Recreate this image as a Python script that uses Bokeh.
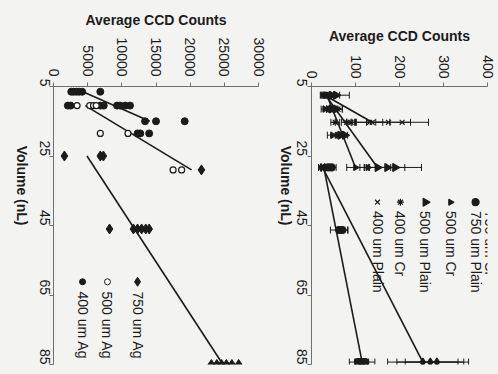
import math
from bokeh.plotting import figure
from bokeh.layouts import row
from bokeh.models import Range1d, FixedTicker, ColumnDataSource, Whisker, TeeHead, Label
from bokeh.embed import file_html
from bokeh.resources import INLINE

# ---------------- data ----------------
volume_ticks = [5, 25, 45, 65, 85]
ag_count_ticks = [0, 5000, 10000, 15000, 20000, 25000, 30000]
plain_count_ticks = [0, 100, 200, 300, 400]

# left panel: Ag coated
ag750_volume = [25, 25, 25, 29, 46, 46, 46, 46, 46, 46, 85, 85, 85, 85, 85, 85]
ag750_counts = [1600, 6850, 7300, 21650, 8200, 11700, 12300, 12900, 13500, 14000,
                23100, 23900, 24600, 25300, 26100, 27100]
ag500_volume = [10.5, 10.5, 10.5, 10.5, 18.5, 18.5, 29, 29]
ag500_counts = [3450, 5300, 5850, 6250, 6850, 10900, 17500, 18750]
ag400_volume = [6.5, 6.5, 6.5, 6.5, 6.5, 6.5, 10.5, 10.5, 10.5, 10.5, 10.5, 10.5, 10.5, 10.5,
                15, 15, 15, 18.5, 18.5, 18.5]
ag400_counts = [2600, 2950, 3350, 3750, 4200, 6850, 2100, 2500, 6850, 7350, 9300, 9750,
                10500, 11200, 13400, 15000, 19200, 12300, 12700, 14000]
ag750_trend_volume = [25, 85]
ag750_trend_counts = [4900, 24800]
ag500_trend_volume = [10.5, 29]
ag500_trend_counts = [4650, 20200]
ag400_trend_volume = [6.5, 15]
ag400_trend_counts = [4300, 14100]

# right panel: plain / Cr
cr750_volume = [28.3, 28.3, 84.3, 84.3, 84.3]
cr750_counts = [22, 30, 253, 270, 285]
cr750_error = [6, 8, 80, 76, 72]
plain750_volume = [28.3, 28.3, 46.3, 46.3, 84.3, 84.3, 84.3]
plain750_counts = [38, 46, 63, 70, 106, 114, 122]
plain750_error = [8, 10, 20, 12, 20, 16, 22]
cr500_volume = [7.5, 7.5, 11.5, 11.5, 19, 19, 28.3, 28.3]
cr500_counts = [32, 40, 30, 38, 48, 58, 100, 128]
cr500_error = [8, 10, 8, 10, 12, 14, 20, 18]
plain500_volume = [7.5, 7.5, 11.5, 11.5, 19, 19, 28.3, 28.3, 28.3]
plain500_counts = [46, 56, 46, 56, 66, 76, 150, 172, 190]
plain500_error = [18, 30, 12, 14, 8, 6, 30, 40, 60]
cr400_volume = [7.5, 11.5, 11.5, 15.3, 15.3, 15.3]
cr400_counts = [28, 42, 50, 54, 80, 90]
cr400_error = [6, 8, 10, 10, 12, 10]
plain400_volume = [7.5, 11.5, 15.3, 15.3, 15.3, 15.3]
plain400_counts = [26, 60, 132, 138, 175, 206]
plain400_error = [6, 10, 30, 40, 50, 60]
plain400_trend_volume = [7.5, 15.3]
plain400_trend_counts = [30, 138]
cr500_trend_volume = [7.5, 28.3]
cr500_trend_counts = [35, 100]
plain500_trend_volume = [7.5, 28.3]
plain500_trend_counts = [32, 150]
plain750_trend_volume = [28.3, 84.3]
plain750_trend_counts = [28, 115]
cr750_trend_volume = [28.3, 84.3]
cr750_trend_counts = [25, 253]

# ---------------- style ----------------
FONT = "Liberation Sans"
BG = "#f3f3f1"
INK = "#1b1b1b"
AXIS = "#6e6e6e"
ROT = -math.pi / 2  # reads top to bottom


def panel(width, x_max, count_ticks, b_left, b_top, b_right, b_bottom, lab_standoff, title_standoff,
          vlab_standoff, vtitle_standoff):
    p = figure(width=width, height=374, x_range=Range1d(0, x_max), y_range=Range1d(85, 5),
               x_axis_location="above", output_backend="svg", toolbar_location=None,
               min_border_left=b_left, min_border_right=b_right,
               min_border_top=b_top, min_border_bottom=b_bottom)
    p.background_fill_color = BG
    p.border_fill_color = BG
    p.outline_line_color = None
    p.xgrid.visible = False
    p.ygrid.visible = False

    xa = p.xaxis[0]
    xa.ticker = FixedTicker(ticks=count_ticks)
    xa.axis_label = "Average CCD Counts"
    xa.axis_label_text_font = FONT
    xa.axis_label_text_font_style = "bold"
    xa.axis_label_text_font_size = "14px"
    xa.axis_label_text_color = INK
    xa.axis_label_standoff = title_standoff
    xa.major_label_orientation = ROT
    xa.major_label_text_font = FONT
    xa.major_label_text_font_size = "14px"
    xa.major_label_text_color = INK
    xa.major_label_standoff = lab_standoff

    ya = p.yaxis[0]
    ya.ticker = FixedTicker(ticks=volume_ticks)
    ya.axis_label = "Volume (nL)"
    ya.axis_label_text_font = FONT
    ya.axis_label_text_font_style = "bold"
    ya.axis_label_text_font_size = "14px"
    ya.axis_label_text_color = INK
    ya.axis_label_standoff = vtitle_standoff
    try:
        ya.axis_label_orientation = ROT
    except Exception:
        pass
    ya.major_label_orientation = ROT
    ya.major_label_text_font = FONT
    ya.major_label_text_font_size = "14px"
    ya.major_label_text_color = INK
    ya.major_label_standoff = vlab_standoff

    for ax in (xa, ya):
        ax.axis_line_color = AXIS
        ax.major_tick_line_color = AXIS
        ax.minor_tick_line_color = None
        ax.major_tick_in = 0
        ax.major_tick_out = 4
    return p


def legend_text(p, x, y, text):
    p.add_layout(Label(x=x, y=y, text=text, angle=ROT, text_font=FONT, text_font_size="14px",
                       text_color=INK, text_align="left", text_baseline="middle"))


def errors(p, vols, cnts, errs):
    src = ColumnDataSource(dict(base=vols,
                                lower=[c - e for c, e in zip(cnts, errs)],
                                upper=[c + e for c, e in zip(cnts, errs)]))
    p.add_layout(Whisker(source=src, base="base", lower="lower", upper="upper", dimension="width",
                         line_color=INK, line_width=1,
                         lower_head=TeeHead(size=7, line_color=INK, line_width=1),
                         upper_head=TeeHead(size=7, line_color=INK, line_width=1)))


# ---------------- left panel ----------------
p1 = panel(266, 30000, ag_count_ticks, 53, 82, 8, 10, 6, 7, 5, 10)
for tv, tc in ((ag750_trend_volume, ag750_trend_counts), (ag500_trend_volume, ag500_trend_counts),
               (ag400_trend_volume, ag400_trend_counts)):
    p1.line(tc, tv, line_color=INK, line_width=1.6)
p1.scatter(ag750_counts, ag750_volume, marker="diamond", size=10, fill_color=INK, line_color=INK)
p1.scatter(ag400_counts, ag400_volume, marker="circle", size=7, fill_color=INK, line_color=INK)
p1.scatter(ag500_counts, ag500_volume, marker="circle", size=6, fill_color="white", line_color=INK,
           line_width=1.2)

AG_LEGEND = dict(counts=[12300, 7900, 4250], key_volume=61.2, text_volume=64.0)
ag_entries = [("750 um Ag", "diamond", INK, 9), ("500 um Ag", "circle", "white", 6),
              ("400 um Ag", "circle", INK, 6)]
for cx, (name, mk, fill, sz) in zip(AG_LEGEND["counts"], ag_entries):
    p1.scatter([cx], [AG_LEGEND["key_volume"]], marker=mk, size=sz, fill_color=fill, line_color=INK)
    legend_text(p1, cx, AG_LEGEND["text_volume"], name)

# ---------------- right panel ----------------
p2 = panel(232, 400, plain_count_ticks, 45, 86, 11, 9, 4, 8, 6, 3)
for tv, tc in ((plain400_trend_volume, plain400_trend_counts), (cr500_trend_volume, cr500_trend_counts),
               (plain500_trend_volume, plain500_trend_counts), (plain750_trend_volume, plain750_trend_counts),
               (cr750_trend_volume, cr750_trend_counts)):
    p2.line(tc, tv, line_color=INK, line_width=1.6)

series = [
    (cr750_volume, cr750_counts, cr750_error, "diamond", 8, 0),
    (plain750_volume, plain750_counts, plain750_error, "circle", 7, 0),
    (cr500_volume, cr500_counts, cr500_error, "triangle", 6, ROT),
    (plain500_volume, plain500_counts, plain500_error, "triangle", 8, ROT),
    (cr400_volume, cr400_counts, cr400_error, "asterisk", 7, ROT),
    (plain400_volume, plain400_counts, plain400_error, "x", 7, 0),
]
for vols, cnts, errs, mk, sz, ang in series:
    errors(p2, vols, cnts, errs)
    p2.scatter(cnts, vols, marker=mk, size=sz, angle=ang, fill_color=INK, line_color=INK,
               line_width=1.2)

PLAIN_LEGEND = dict(counts=[405, 373, 316, 259, 202, 150], key_volume=38.3, text_volume=40.8)
plain_names = ["750 um Cr", "750 um Plain", "500 um Cr", "500 um Plain", "400 um Cr", "400 um Plain"]
for cx, name, (_, _, _, mk, sz, ang) in zip(PLAIN_LEGEND["counts"], plain_names, series):
    if cx <= 400:
        p2.scatter([cx], [PLAIN_LEGEND["key_volume"]], marker=mk, size=sz, angle=ang,
                   fill_color=INK, line_color=INK, line_width=1.2)
    legend_text(p2, cx, PLAIN_LEGEND["text_volume"], name)

layout = row(p1, p2, styles={"background-color": BG})
open("out.html", "w").write(file_html(layout, INLINE))
